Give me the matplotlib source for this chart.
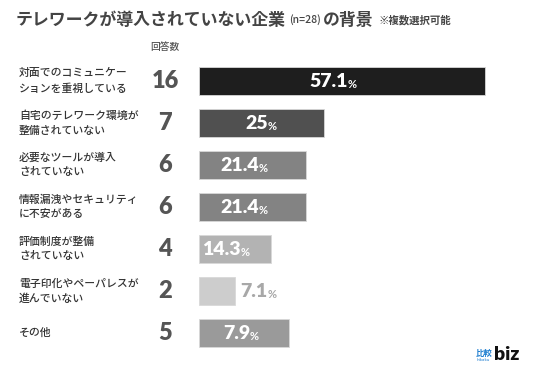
import matplotlib.pyplot as plt
from matplotlib.transforms import blended_transform_factory

plt.rcParams['font.family'] = ['Noto Sans CJK JP', 'DejaVu Sans']

# data
reasons = [
    "対面でのコミュニケー\nションを重視している",
    "自宅のテレワーク環境が\n整備されていない",
    "必要なツールが導入\nされていない",
    "情報漏洩やセキュリティ\nに不安がある",
    "評価制度が整備\nされていない",
    "電子印化やペーパレスが\n進んでいない",
    "その他",
]
counts = [16, 7, 6, 6, 4, 2, 5]
percents = [57.1, 25, 21.4, 21.4, 14.3, 7.1, 17.9]
pct_labels = ["57.1", "25", "21.4", "21.4", "14.3", "7.1", "7.9"]
bar_colors = ["#1e1e1e", "#505050", "#838383", "#838383", "#b3b3b3", "#cdcdcd", "#9a9a9a"]

W, H = 536, 372
fig = plt.figure(figsize=(W / 100, H / 100), dpi=100)
fig.patch.set_facecolor("white")

# axes: bars start at x=199px, 5px per percent, rows 42px apart starting at y=81px
ax = fig.add_axes([199 / W, 0, (W - 199) / W, 1])
ax.set_xlim(0, (W - 199) / 5)
ax.set_ylim((H - 81) / 42, -81 / 42)
ax.axis("off")

ypos = list(range(len(reasons)))
ax.barh(ypos, percents, height=0.667, color=bar_colors, edgecolor="#d8d8d8", linewidth=0.6)

trans = blended_transform_factory(fig.transFigure, ax.transData)
for i, (r, c) in enumerate(zip(reasons, counts)):
    fig.text(19 / W, i, r, transform=trans, ha="left", va="center",
             fontsize=7.8, fontweight="medium", color="#333333", linespacing=1.55)
    fig.text(165 / W, i, str(c), transform=trans, ha="center", va="center",
             fontsize=17, fontweight="heavy", color="#555555", family="Lato")

for i, (p, lab) in enumerate(zip(percents, pct_labels)):
    if p > 10:
        x, col, dx = p / 2, "white", 4.5
    else:
        x, col, dx = p + 5.3, "#a8a8a8", 4.5
    ax.annotate(lab, (x, i), xytext=(dx, -0.5), textcoords="offset points",
                ha="right", va="center", fontsize=14, fontweight="heavy",
                color=col, family="Lato")
    ax.annotate("%", (x, i), xytext=(dx, -2.5), textcoords="offset points",
                ha="left", va="center", fontsize=8, fontweight="bold",
                color=col, family="Lato")

fig.text(165 / W, 1 - 47 / H, "回答数", ha="center", va="center", fontsize=7,
         fontweight="medium", color="#555555")

# title, pieces chained left to right
fig.canvas.draw()
renderer = fig.canvas.get_renderer()
title_parts = [
    ("テレワークが導入されていない企業", 12.2, "bold", 3),
    ("(n=28)", 7.5, "medium", 2),
    ("の背景", 12.2, "bold", 5),
    ("※複数選択可能", 7.5, "bold", 0),
]
xpx = 16
for txt, fs, fw, gap in title_parts:
    t = fig.text(xpx / W, 1 - 20 / H, txt, ha="left", va="center",
                 fontsize=fs, fontweight=fw, color="#444444")
    xpx += t.get_window_extent(renderer).width + gap

# logo
fig.text(476 / W, 1 - 353 / H, "比較", ha="left", va="center", fontsize=6,
         fontweight="bold", color="#1f7fd0")
fig.text(477 / W, 1 - 360 / H, "hikaku", ha="left", va="center", fontsize=3,
         color="#1f7fd0", family="DejaVu Sans")
fig.text(494 / W, 1 - 354 / H, "biz", ha="left", va="center", fontsize=14,
         fontweight="heavy", color="#111111", family="Lato")

fig.savefig("out.png", dpi=100, facecolor="white")
